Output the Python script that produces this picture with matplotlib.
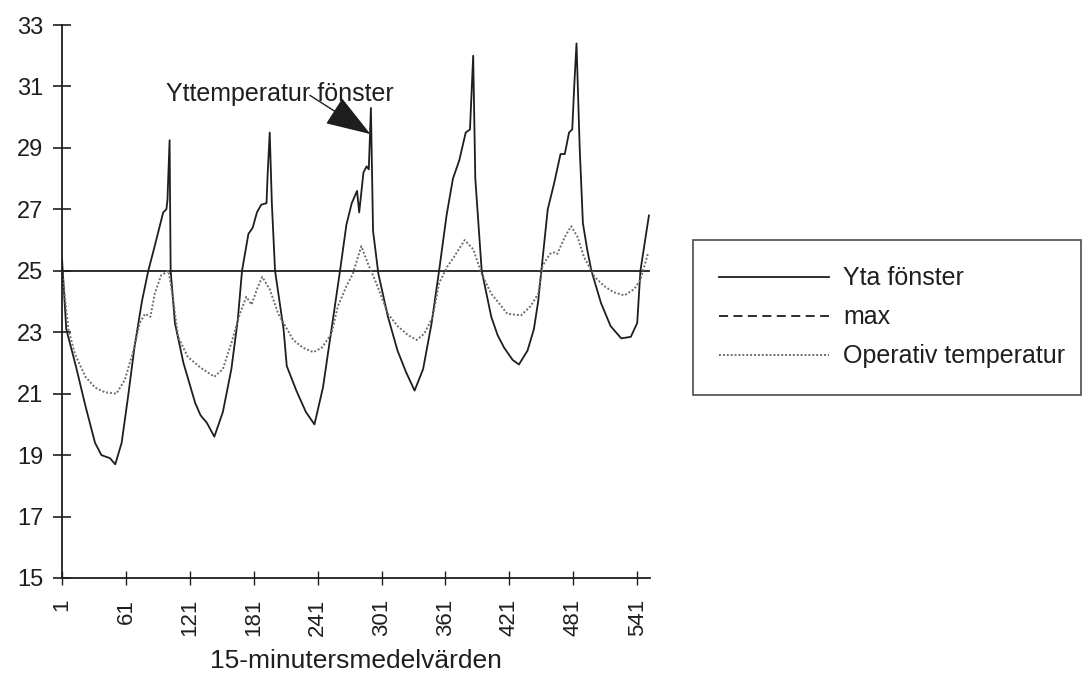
import matplotlib
matplotlib.use("Agg")
import matplotlib.pyplot as plt
from matplotlib.lines import Line2D

# Yta fönster (surface temperature, window) - traced key points
yta_x = [1, 5, 14, 23, 32, 38, 46, 51, 57, 63, 69, 76, 82, 88, 96, 99, 100, 102, 103,
         107, 115, 126, 131, 137, 144, 152, 160, 166, 170, 176, 180, 184, 188, 193, 194,
         196, 198, 201, 209, 212, 221, 230, 238, 246, 254, 262, 268, 273, 278, 280, 284,
         287, 289, 291, 293, 298, 307, 316, 324, 332, 340, 348, 355, 362, 368, 374, 380,
         384, 387, 389, 395, 404, 410, 416, 424, 430, 438, 444, 448, 451, 457, 463, 469,
         473, 477, 480, 482, 484, 487, 490, 494, 498, 507, 516, 526, 535, 541, 544, 552]
yta_v = [25.4, 23.1, 21.9, 20.6, 19.4, 19.0, 18.9, 18.7, 19.4, 20.9, 22.5, 24.0, 25.0,
         25.8, 26.9, 27.0, 27.3, 29.25, 25.0, 23.3, 22.0, 20.7, 20.3, 20.05, 19.6, 20.4,
         21.8, 23.4, 25.0, 26.2, 26.4, 26.9, 27.15, 27.2, 28.1, 29.5, 27.2, 25.0, 23.1,
         21.9, 21.1, 20.4, 20.0, 21.2, 23.1, 25.0, 26.5, 27.2, 27.6, 26.9, 28.2, 28.4,
         28.3, 30.3, 26.3, 24.9, 23.5, 22.4, 21.7, 21.1, 21.8, 23.3, 25.0, 26.8, 28.0,
         28.6, 29.5, 29.6, 32.0, 28.0, 25.0, 23.5, 22.9, 22.5, 22.1, 21.95, 22.4, 23.1,
         24.0, 25.0, 27.0, 27.85, 28.8, 28.8, 29.5, 29.6, 31.1, 32.4, 29.0, 26.55, 25.7,
         25.0, 23.95, 23.2, 22.8, 22.85, 23.3, 25.0, 26.8]

# Operativ temperatur - traced key points
op_x = [1, 7, 13, 23, 32, 41, 52, 60, 68, 74, 79, 84, 88, 94, 101, 105, 110, 119, 131,
        144, 152, 160, 168, 174, 179, 184, 189, 196, 204, 209, 218, 227, 237, 245, 254,
        260, 268, 274, 282, 288, 296, 307, 316, 326, 334, 341, 349, 355, 363, 369, 379,
        387, 395, 404, 410, 419, 432, 441, 448, 452, 459, 463, 466, 473, 479, 485, 491,
        501, 510, 519, 529, 538, 544, 551]
op_v = [25.0, 23.1, 22.3, 21.55, 21.2, 21.05, 21.0, 21.45, 22.4, 23.3, 23.6, 23.5,
        24.25, 24.85, 25.0, 24.15, 22.85, 22.2, 21.85, 21.55, 21.8, 22.65, 23.6, 24.15,
        23.9, 24.4, 24.8, 24.4, 23.6, 23.3, 22.75, 22.5, 22.35, 22.5, 22.95, 23.85, 24.5,
        24.9, 25.8, 25.25, 24.6, 23.6, 23.2, 22.9, 22.75, 22.95, 23.5, 24.6, 25.15,
        25.45, 26.0, 25.7, 24.9, 24.25, 24.0, 23.6, 23.55, 23.85, 24.25, 25.15, 25.55,
        25.6, 25.55, 26.1, 26.45, 26.1, 25.45, 24.8, 24.5, 24.3, 24.2, 24.4, 24.7, 25.55]

# max (limit line)
max_x = [1, 552]
max_v = [25, 25]

y_ticks = [15, 17, 19, 21, 23, 25, 27, 29, 31, 33]
x_ticks = [1, 61, 121, 181, 241, 301, 361, 421, 481, 541]

plt.rcParams["font.family"] = ["Liberation Sans", "DejaVu Sans"]

fig = plt.figure(figsize=(10.82, 6.74), dpi=100)
ax = fig.add_axes([62 / 1082, 1 - 578 / 674, (650 - 62) / 1082, (578 - 25) / 674])

ink = "#1e1e1e"
ax.plot(yta_x, yta_v, color=ink, lw=1.3)
ax.plot(max_x, max_v, color=ink, lw=1.3)
ax.plot(op_x, op_v, color="#6e6e6e", lw=1.4, linestyle=(0, (1, 1)))

ax.set_xlim(1, 553)
ax.set_ylim(15, 33)
ax.set_yticks(y_ticks)
ax.set_xticks(x_ticks)
ax.set_xticklabels([str(t) for t in x_ticks], rotation=90)

for s in ["top", "right"]:
    ax.spines[s].set_visible(False)
for s in ["left", "bottom"]:
    ax.spines[s].set_color(ink)
    ax.spines[s].set_linewidth(1.3)

ax.tick_params(axis="y", direction="inout", length=13, width=1.2, color=ink,
               labelsize=17, pad=7, labelcolor=ink)
ax.tick_params(axis="x", direction="inout", length=10, width=1.0, color=ink,
               labelsize=16, pad=10, labelcolor=ink)
ax.set_xlabel("15-minutersmedelvärden", fontsize=19, labelpad=9, color=ink)

# label with arrow pointing at the third peak
ax.annotate("Yttemperatur fönster", xy=(290.5, 29.45), xytext=(99, 30.75),
            fontsize=18, va="center", ha="left", color=ink,
            arrowprops=dict(arrowstyle="-|>,head_length=1.6,head_width=0.55",
                            color=ink, lw=1.0, shrinkA=0, shrinkB=0,
                            patchA=None, relpos=(0.63, 0.45)))

handles = [Line2D([], [], color=ink, lw=1.3),
           Line2D([], [], color=ink, lw=1.3, linestyle=(0, (5, 3))),
           Line2D([], [], color="#6e6e6e", lw=1.4, linestyle=(0, (1, 1)))]
labels = ["Yta fönster", "max", "Operativ temperatur"]
leg = fig.legend(handles, labels, loc="upper left",
                 bbox_to_anchor=(693 / 1082, 1 - 397 / 674, (1081 - 693) / 1082, 157 / 674),
                 mode="expand", fontsize=18, frameon=True, fancybox=False,
                 edgecolor=ink, handlelength=4.4, handletextpad=0.55,
                 labelspacing=0.6, borderpad=1.05, borderaxespad=0)
leg.get_frame().set_linewidth(1.2)
for t in leg.get_texts():
    t.set_color(ink)

fig.savefig("out.png", dpi=100)
